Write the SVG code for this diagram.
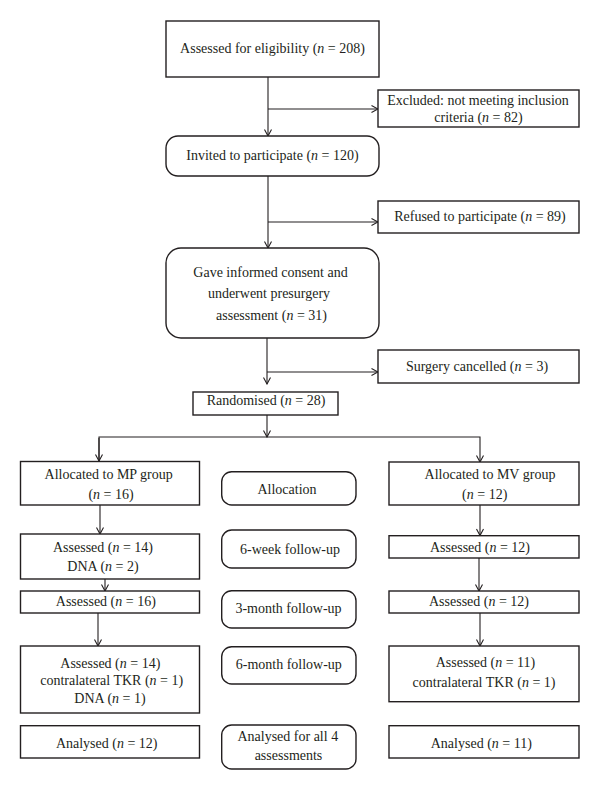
<svg xmlns="http://www.w3.org/2000/svg" width="600" height="790" viewBox="0 0 600 790">
<defs>
<style>
.box{fill:#fff;stroke:#231f20;stroke-width:1.4}
.ln{fill:none;stroke:#231f20;stroke-width:1.1}
text{font-family:"Liberation Serif","Times New Roman",serif;font-size:14px;fill:#231f20;text-anchor:middle}
.i{font-style:italic}
</style>
<marker id="ah" markerUnits="userSpaceOnUse" markerWidth="9" markerHeight="9" viewBox="0 0 9 9" refX="8" refY="4.5" orient="auto">
<path d="M1.5,1 L8,4.5 L1.5,8" fill="none" stroke="#231f20" stroke-width="1.1"/>
</marker>
</defs>
<rect width="600" height="790" fill="#fff"/>
<g id="connectors">
<path class="ln" d="M268,77 V136" marker-end="url(#ah)"/>
<path class="ln" d="M268,109 H378" marker-end="url(#ah)"/>
<path class="ln" d="M268,176 V248" marker-end="url(#ah)"/>
<path class="ln" d="M268,222 H378" marker-end="url(#ah)"/>
<path class="ln" d="M267,338 V384" marker-end="url(#ah)"/>
<path class="ln" d="M267,372 H378" marker-end="url(#ah)"/>
<path class="ln" d="M267,415 V437" marker-end="url(#ah)"/>
<path class="ln" d="M99,461 V437 H480 V462" marker-end="url(#ah)"/>
<path class="ln" d="M99,438 V461" marker-end="url(#ah)"/>
<path class="ln" d="M100,505 V534" marker-end="url(#ah)"/>
<path class="ln" d="M105,579 V591" marker-end="url(#ah)"/>
<path class="ln" d="M98,613 V646" marker-end="url(#ah)"/>
<path class="ln" d="M480,505 V535.5" marker-end="url(#ah)"/>
<path class="ln" d="M479,558 V591" marker-end="url(#ah)"/>
<path class="ln" d="M480,613 V646" marker-end="url(#ah)"/>
</g>
<g id="eligibility">
<rect class="box" x="166" y="21" width="213" height="56"/>
<text x="272.5" y="53">Assessed for eligibility (<tspan class="i">n</tspan> = 208)</text>
</g>
<g id="excluded">
<rect class="box" x="378" y="90" width="201" height="37"/>
<text x="478" y="105">Excluded: not meeting inclusion</text>
<text x="478.5" y="122">criteria (<tspan class="i">n</tspan> = 82)</text>
</g>
<g id="invited">
<rect class="box" x="166" y="136" width="213" height="40" rx="12"/>
<text x="272.5" y="160">Invited to participate (<tspan class="i">n</tspan> = 120)</text>
</g>
<g id="refused">
<rect class="box" x="378" y="201" width="201" height="32"/>
<text x="480" y="221">Refused to participate (<tspan class="i">n</tspan> = 89)</text>
</g>
<g id="consent">
<rect class="box" x="166" y="248" width="213" height="90" rx="15"/>
<text x="270.5" y="276.5">Gave informed consent and</text>
<text x="269" y="298">underwent presurgery</text>
<text x="271.5" y="320">assessment (<tspan class="i">n</tspan> = 31)</text>
</g>
<g id="cancelled">
<rect class="box" x="378" y="350" width="201" height="33"/>
<text x="477" y="370.5">Surgery cancelled (<tspan class="i">n</tspan> = 3)</text>
</g>
<g id="randomised">
<rect class="box" x="193" y="392" width="145" height="23"/>
<text x="266" y="405">Randomised (<tspan class="i">n</tspan> = 28)</text>
</g>
<g id="mp-group">
<rect class="box" x="20.5" y="461.5" width="179" height="43.5"/>
<text x="108.7" y="479">Allocated to MP group</text>
<text x="111" y="499">(<tspan class="i">n</tspan> = 16)</text>
</g>
<g id="allocation">
<rect class="box" x="221.7" y="471.7" width="134.3" height="33.3" rx="10"/>
<text x="287" y="494">Allocation</text>
</g>
<g id="mv-group">
<rect class="box" x="389" y="462" width="190" height="43"/>
<text x="490" y="479">Allocated to MV group</text>
<text x="484.7" y="499">(<tspan class="i">n</tspan> = 12)</text>
</g>
<g id="mp-6w">
<rect class="box" x="20.5" y="534" width="179" height="45"/>
<text x="103" y="552">Assessed (<tspan class="i">n</tspan> = 14)</text>
<text x="103" y="571">DNA (<tspan class="i">n</tspan> = 2)</text>
</g>
<g id="label-6w">
<rect class="box" x="221.7" y="530" width="134.3" height="38" rx="10"/>
<text x="290" y="554">6-week follow-up</text>
</g>
<g id="mv-6w">
<rect class="box" x="389" y="535.7" width="190" height="22.3"/>
<text x="480" y="552">Assessed (<tspan class="i">n</tspan> = 12)</text>
</g>
<g id="mp-3m">
<rect class="box" x="20.5" y="591" width="179" height="22"/>
<text x="105.8" y="605.5">Assessed (<tspan class="i">n</tspan> = 16)</text>
</g>
<g id="label-3m">
<rect class="box" x="221.7" y="590.7" width="134.3" height="37.3" rx="10"/>
<text x="288.5" y="613">3-month follow-up</text>
</g>
<g id="mv-3m">
<rect class="box" x="389" y="591" width="190" height="22"/>
<text x="479" y="605.5">Assessed (<tspan class="i">n</tspan> = 12)</text>
</g>
<g id="mp-6m">
<rect class="box" x="20.5" y="646" width="179" height="67"/>
<text x="110.3" y="667.5">Assessed (<tspan class="i">n</tspan> = 14)</text>
<text x="111.7" y="685">contralateral TKR (<tspan class="i">n</tspan> = 1)</text>
<text x="110" y="702.5">DNA (<tspan class="i">n</tspan> = 1)</text>
</g>
<g id="label-6m">
<rect class="box" x="221.7" y="646.7" width="134.3" height="37.3" rx="10"/>
<text x="288.8" y="669">6-month follow-up</text>
</g>
<g id="mv-6m">
<rect class="box" x="389" y="646" width="190" height="55.7"/>
<text x="485.5" y="667">Assessed (<tspan class="i">n</tspan> = 11)</text>
<text x="484" y="686.5">contralateral TKR (<tspan class="i">n</tspan> = 1)</text>
</g>
<g id="mp-analysed">
<rect class="box" x="20.5" y="725.7" width="179" height="32.3"/>
<text x="106.7" y="747.5">Analysed (<tspan class="i">n</tspan> = 12)</text>
</g>
<g id="label-analysed">
<rect class="box" x="221.7" y="725" width="134.3" height="44" rx="10"/>
<text x="287.8" y="741">Analysed for all 4</text>
<text x="288.5" y="760">assessments</text>
</g>
<g id="mv-analysed">
<rect class="box" x="389" y="725.7" width="190" height="32.3"/>
<text x="481.3" y="747.5">Analysed (<tspan class="i">n</tspan> = 11)</text>
</g>
</svg>
